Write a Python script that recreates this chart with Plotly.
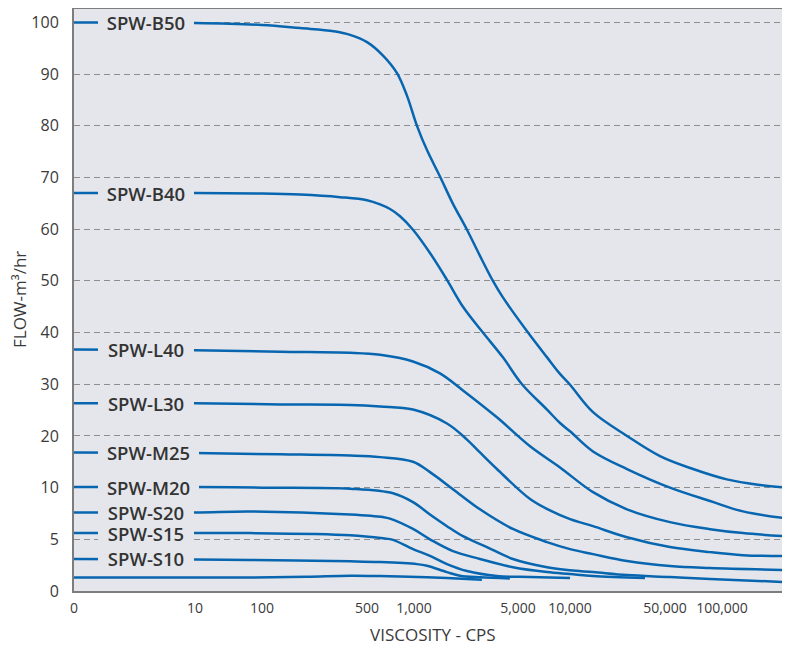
import numpy as np
import plotly.graph_objects as go

# ---------------- data (viscosity in cps, flow in m3/hr) ----------------
B50_V = [0, 10, 100, 179, 300, 386, 500, 633, 778, 902, 1047, 1222, 1494, 1827, 2269, 2904, 3390,
         3957, 5710, 7360, 8750, 10000, 14760, 26250, 45900, 70300, 106000, 159000, 215000]
B50_F = [100, 99.9, 99.5, 98.9, 98.3, 97.6, 96.2, 93.6, 90.2, 85.8, 80.0, 75.3, 70.2, 64.9, 59.9, 53.7, 50.0,
         46.8, 40.0, 35.2, 32.0, 29.9, 24.6, 20.0, 16.1, 13.6, 11.6, 10.5, 10.0]

B40_V = [0, 10, 100, 179, 331, 500, 606, 702, 814, 985, 1280, 1665, 2133, 2904, 3957, 5270,
         7360, 8750, 10000, 14760, 26250, 53100, 86500, 129000, 215000]
B40_F = [67.0, 67.0, 66.9, 66.7, 66.2, 65.6, 64.8, 63.9, 62.5, 59.9, 55.4, 50.2, 45.0, 40.0, 35.2, 30.0,
         25.1, 22.5, 20.9, 17.0, 13.6, 10.0, 8.7, 7.7, 7.05]

L40_V = [0, 10, 132, 386, 606, 985, 1494, 2133, 3606, 5870, 8750, 14760, 26250, 53100, 86500, 129000, 215000]
L40_F = [36.7, 36.6, 36.3, 36.1, 35.7, 34.4, 32.1, 28.8, 23.6, 18.0, 13.9, 9.56, 7.9, 6.66, 5.98, 5.6, 5.3]

L30_V = [0, 10, 132, 386, 606, 985, 1665, 2269, 2773, 3606, 5870, 7650, 10000, 14760, 26250, 53100, 86500, 129000, 215000]
L30_F = [26.3, 26.3, 26.1, 26.0, 25.7, 25.1, 22.4, 19.3, 16.8, 13.6, 8.9, 7.8, 6.95, 6.27, 5.2, 4.25, 3.76, 3.47, 3.38]

M25_V = [0, 10, 132, 386, 606, 985, 1280, 1827, 2773, 4617, 7360, 10000, 14760, 26250, 53100, 86500, 215000]
M25_F = [16.8, 16.7, 16.45, 16.2, 15.9, 15.0, 13.0, 9.85, 7.9, 6.0, 4.73, 4.05, 3.57, 2.9, 2.41, 2.22, 2.03]

M20_V = [0, 10, 100, 386, 734, 985, 1280, 1665, 2133, 3090, 4617, 7360, 10000, 14760, 26250, 53100, 86500, 215000]
M20_F = [10.1, 10.1, 10.0, 9.9, 9.46, 8.6, 7.4, 6.27, 5.3, 4.25, 3.1, 2.3, 2.0, 1.83, 1.54, 1.35, 1.16, 0.87]

S20_V = [0, 10, 66, 386, 633, 702, 985, 1280, 1827, 2773, 4617, 7360, 10000, 14760, 35600]
S20_F = [7.6, 7.6, 7.7, 7.4, 7.15, 7.0, 6.0, 5.0, 3.86, 3.1, 2.3, 1.83, 1.64, 1.45, 1.25]

S15_V = [0, 10, 66, 386, 633, 734, 985, 1280, 1665, 2269, 3606, 5870, 10000]
S15_F = [5.6, 5.6, 5.6, 5.4, 5.1, 4.95, 4.05, 3.4, 2.6, 1.93, 1.45, 1.35, 1.25]

S10_V = [0, 10, 66, 386, 606, 1047, 1222, 1665, 2036, 2773, 4405]
S10_F = [3.1, 3.05, 3.0, 2.87, 2.8, 2.6, 2.45, 1.83, 1.48, 1.32, 1.22]

UNLABELED_V = [0, 10, 66, 200, 386, 606, 814, 1665, 2860]
UNLABELED_F = [1.3, 1.3, 1.3, 1.38, 1.48, 1.45, 1.4, 1.25, 1.1]

SERIES = [
    ("SPW-B50", B50_V, B50_F),
    ("SPW-B40", B40_V, B40_F),
    ("SPW-L40", L40_V, L40_F),
    ("SPW-L30", L30_V, L30_F),
    ("SPW-M25", M25_V, M25_F),
    ("SPW-M20", M20_V, M20_F),
    ("SPW-S20", S20_V, S20_F),
    ("SPW-S15", S15_V, S15_F),
    ("SPW-S10", S10_V, S10_F),
    ("", UNLABELED_V, UNLABELED_F),
]

X_TICK_VALUES = [0, 10, 100, 500, 1000, 5000, 10000, 50000, 100000]
X_TICK_TEXT = ["0", "10", "100", "500", "1,000", "5,000", "10,000", "50,000", "100,000"]
X_MAX = 215000
Y_TICK_VALUES = [0, 5, 10, 20, 30, 40, 50, 60, 70, 80, 90, 100]
Y_TICK_TEXT = [str(v) for v in Y_TICK_VALUES]

# ---------------- custom (hand-drawn style) scales ----------------
X_SCALE_POS = [0, 121, 188, 293, 340, 444, 496, 591, 648]  # breakpoints of the chart's own scale


def x_pos(v):
    v = np.asarray(v, dtype=float)
    out = np.empty_like(v)
    lin = v <= 10
    out[lin] = v[lin] / 10.0 * X_SCALE_POS[1]
    logt = np.log10(np.array(X_TICK_VALUES[1:], dtype=float))
    pos = np.array(X_SCALE_POS[1:], dtype=float)
    lg = np.log10(np.maximum(v, 10))
    res = np.interp(lg, logt, pos)
    slope = (pos[-1] - pos[-2]) / (logt[-1] - logt[-2])
    beyond = lg > logt[-1]
    res[beyond] = pos[-1] + (lg[beyond] - logt[-1]) * slope
    out[~lin] = res[~lin]
    return out


def y_pos(v):
    v = np.asarray(v, dtype=float)
    return np.where(v <= 10, v / 5.0, 1 + v / 10.0)


LINE_COLOR = "#0866b0"
PLOT_BG = "#e4e6eb"
TEXT = "#3a3a3a"
FONT = "Open Sans"

fig = go.Figure()
for name, vx, fy in SERIES:
    fig.add_trace(go.Scatter(
        x=x_pos(vx), y=y_pos(fy), mode="lines", name=name,
        line=dict(color=LINE_COLOR, width=2.5, shape="spline", smoothing=1.0),
        hoverinfo="skip", showlegend=False,
    ))

annotations = []
for name, vx, fy in SERIES:
    if not name:
        continue
    wide = "M" in name
    annotations.append(dict(
        text=name, xref="paper", yref="y", x=24 / 711, y=float(y_pos(fy[0])),
        xanchor="left", yanchor="middle", showarrow=False,
        width=101 if wide else 96, align="center",
        bgcolor=PLOT_BG, borderpad=0, borderwidth=0,
        font=dict(family=FONT, size=18.5, color="#333333", weight=600),
    ))

annotations.append(dict(
    text="FLOW-m³/hr", xref="paper", yref="paper", x=(19 - 74) / 711, y=0.5,
    xanchor="center", yanchor="middle", textangle=-90, showarrow=False,
    font=dict(family=FONT, size=17, color=TEXT),
))
annotations.append(dict(
    text="VISCOSITY - CPS", xref="paper", yref="paper", x=(433 - 74) / 711, y=(591 - 634) / 582,
    xanchor="center", yanchor="middle", showarrow=False,
    font=dict(family=FONT, size=17, color=TEXT),
))

# page body adds an 8px offset; the figure is sized so the plot area lands where the reference has it
fig.update_layout(
    width=782, height=639,
    margin=dict(l=66, r=5, t=1, b=56, autoexpand=False),
    paper_bgcolor="white", plot_bgcolor=PLOT_BG,
    font=dict(family=FONT, color=TEXT),
    annotations=annotations,
    xaxis=dict(
        range=[0, float(x_pos([X_MAX])[0])],
        tickmode="array", tickvals=x_pos(X_TICK_VALUES), ticktext=X_TICK_TEXT,
        showgrid=False, zeroline=False, ticks="", automargin=False,
        showline=True, mirror=True, linecolor="#7d7d7d", linewidth=2,
        tickfont=dict(family=FONT, size=14, color=TEXT),
        ticklabelstandoff=3, fixedrange=True,
    ),
    yaxis=dict(
        range=[0, 11.26],
        tickmode="array", tickvals=y_pos(Y_TICK_VALUES), ticktext=Y_TICK_TEXT,
        showgrid=True, gridcolor="#8e8e8e", gridwidth=1, griddash="6px,4px",
        zeroline=False, ticks="", automargin=False,
        showline=True, mirror=True, linecolor="#7d7d7d", linewidth=2,
        tickfont=dict(family=FONT, size=16, color=TEXT),
        ticklabelstandoff=10, fixedrange=True,
    ),
)

fig.write_html("out.html")
